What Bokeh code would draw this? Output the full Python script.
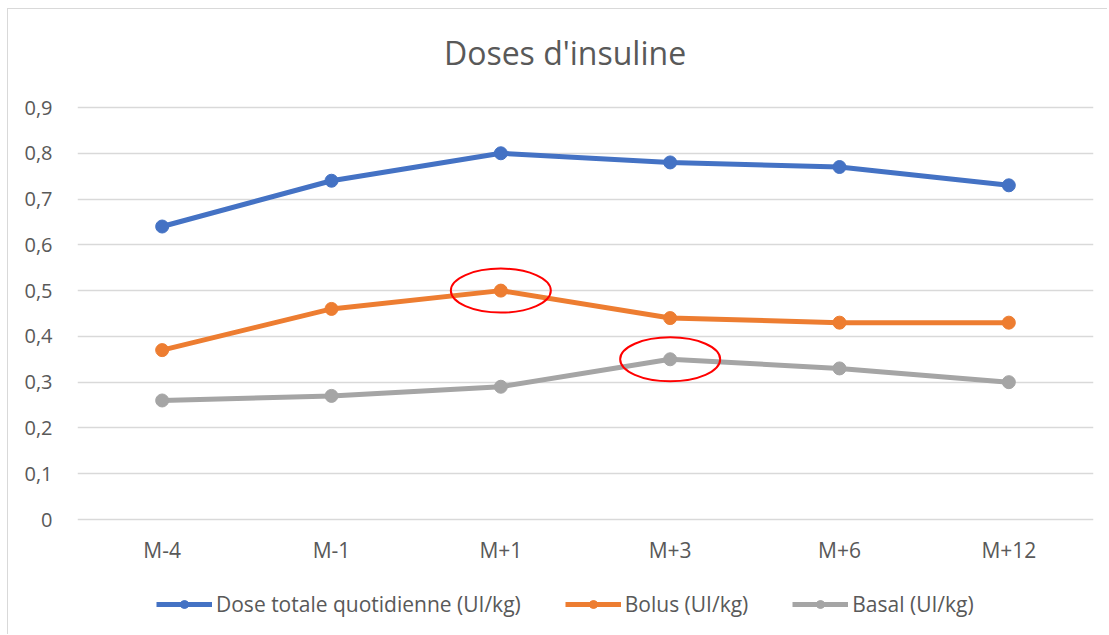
from bokeh.plotting import figure
from bokeh.models import (Range1d, FixedTicker, CustomJSTickFormatter, Legend, LegendItem,
                          ColumnDataSource, Label)
from bokeh.core.properties import value
from bokeh.embed import file_html
from bokeh.resources import INLINE

categories = ["M-4", "M-1", "M+1", "M+3", "M+6", "M+12"]
total = [0.64, 0.74, 0.80, 0.78, 0.77, 0.73]
bolus = [0.37, 0.46, 0.50, 0.44, 0.43, 0.43]
basal = [0.26, 0.27, 0.29, 0.35, 0.33, 0.30]
series_names = ["Dose totale quotidienne (UI/kg)", "Bolus (UI/kg)", "Basal (UI/kg)"]
y_ticks = [0, 0.1, 0.2, 0.3, 0.4, 0.5, 0.6, 0.7, 0.8, 0.9]
highlight_x = ["M+1", "M+3"]
highlight_y = [0.50, 0.35]
title_text = "Doses d'insuline"

FONT = "Open Sans"
TXT = "#595959"

# frame covers the whole canvas height: 0 sits 116px above the bottom, 0.9 spans 412px
H = 626
PX_PER_UNIT = 412 / 0.9
Y_MIN = -116 / PX_PER_UNIT
Y_TOP = (H - 116) / PX_PER_UNIT

p = figure(x_range=categories, y_range=Range1d(Y_MIN, Y_TOP), width=1100, height=H,
           output_backend="svg", toolbar_location=None,
           min_border_left=69, min_border_right=15, min_border_top=0, min_border_bottom=0)
p.x_range.range_padding = 0
p.outline_line_color = None
p.background_fill_color = "white"
p.border_fill_color = "white"
p.styles = {"margin-left": "7px", "margin-top": "8px",
            "border-left": "1px solid #d9d9d9", "border-top": "1px solid #d9d9d9"}

# chart title, centred on the whole chart area, in the space above the 0.9 gridline
p.add_layout(Label(x=2.879, y=Y_TOP - 43 / PX_PER_UNIT, text=title_text,
                   text_font=FONT, text_font_size="32px", text_color=TXT,
                   text_align="center", text_baseline="middle"))

p.xaxis.visible = False
p.yaxis.ticker = FixedTicker(ticks=y_ticks)
p.yaxis.formatter = CustomJSTickFormatter(code="return tick === 0 ? '0' : tick.toFixed(1).replace('.', ',');")
ax = p.yaxis[0]
ax.axis_line_color = None
ax.major_tick_line_color = None
ax.minor_tick_line_color = None
ax.major_label_text_font = FONT
ax.major_label_text_font_size = "20px"
ax.major_label_text_color = TXT
ax.major_label_standoff = 19

p.xgrid.grid_line_color = None
p.ygrid.ticker = FixedTicker(ticks=y_ticks)
p.ygrid.grid_line_color = "#d9d9d9"
p.ygrid.grid_line_width = 1.5

# category labels under the zero line
lab_src = ColumnDataSource(dict(x=categories, y=[0] * len(categories), t=categories))
p.text(x="x", y="y", text="t", source=lab_src, text_font=value(FONT), text_font_size="21px",
       text_color=TXT, text_align="center", text_baseline="middle", y_offset=30)

colors = ["#4472C4", "#ED7D31", "#A5A5A5"]
items = []
for vals, name, c in zip([total, bolus, basal], series_names, colors):
    l = p.line(categories, vals, line_color=c, line_width=5)
    s = p.scatter(categories, vals, size=13, fill_color=c, line_color=c)
    items.append(LegendItem(label=name, renderers=[l, s]))

p.ellipse(x=highlight_x, y=highlight_y, width=100, height=44,
          width_units="screen", height_units="screen",
          fill_alpha=0, line_color="#FF0000", line_width=2)

legend = Legend(items=items, orientation="horizontal", location=(79, 17),
                label_text_font=FONT, label_text_font_size="21px", label_text_color=TXT,
                glyph_width=56, glyph_height=20, spacing=44, label_standoff=4,
                border_line_color=None, background_fill_alpha=0, margin=0, padding=10)
p.add_layout(legend)

open("out.html", "w").write(file_html(p, INLINE))
